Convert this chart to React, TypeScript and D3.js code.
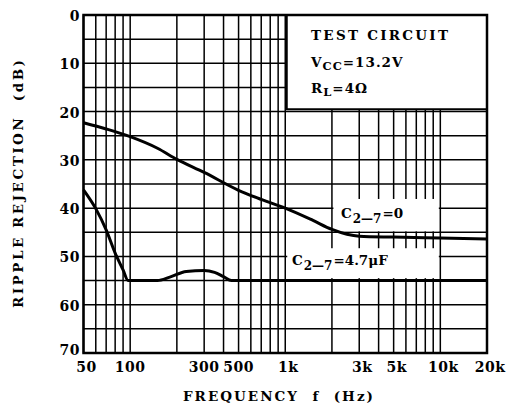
import React from 'react';
import * as d3 from 'd3';

// frequency (Hz) / ripple rejection (dB)
const freqC0 = [50, 70, 100, 150, 200, 300, 500, 700, 1000, 1500, 2000, 2500, 3000, 5000, 10000, 20000];
const rrC0 = [22.3, 23.6, 25.2, 27.6, 29.9, 32.6, 36.3, 38.2, 40, 42.5, 44.4, 45.4, 45.8, 46.0, 46.2, 46.4];

const freqC47 = [50, 60, 70, 80, 90, 97, 150, 180, 230, 300, 350, 400, 450, 1000, 20000];
const rrC47 = [36.2, 40.1, 44.5, 49.3, 52.8, 55, 55, 54.3, 53.1, 52.9, 53.3, 54.2, 55, 55, 55];

const xGrid = [50, 60, 70, 80, 90, 100, 200, 300, 400, 500, 600, 700, 800, 900, 1000,
  2000, 3000, 4000, 5000, 6000, 7000, 8000, 9000, 10000, 20000];
const xTicks = [50, 100, 300, 500, 1000, 3000, 5000, 10000, 20000];
const xTickLabels = ['50', '100', '300', '500', '1k', '3k', '5k', '10k', '20k'];
const yGrid = d3.range(0, 71, 5);
const yTicks = [0, 10, 20, 30, 40, 50, 60, 70];

const FONT = '"DejaVu Serif", "Liberation Serif", serif';

const App = () => {
  const left = 83.5, right = 487, top = 15, bottom = 353;
  const x = d3.scaleLog().domain([50, 20000]).range([left, right]);
  const y = d3.scaleLinear().domain([0, 70]).range([top, bottom]);

  const line = d3
    .line<[number, number]>()
    .x((d) => x(d[0]))
    .y((d) => y(d[1]))
    .curve(d3.curveMonotoneX);

  const c0 = freqC0.map((f, i) => [f, rrC0[i]] as [number, number]);
  const c47 = freqC47.map((f, i) => [f, rrC47[i]] as [number, number]);

  const txt = { fontFamily: FONT, fontWeight: 'bold' as const, fill: '#000' };

  return (
    <svg width={512} height={405} style={{ position: 'absolute', left: 0, top: 0, background: '#fff' }}>
      {/* grid */}
      <g stroke="#000" strokeWidth={1.5}>
        {xGrid.map((f) => (
          <line key={'vx' + f} x1={x(f)} x2={x(f)} y1={top} y2={bottom} />
        ))}
        {yGrid.map((v) => (
          <line key={'hy' + v} x1={left} x2={right} y1={y(v)} y2={y(v)} />
        ))}
      </g>

      {/* test circuit box */}
      <rect x={x(1000) + 1} y={top} width={right - x(1000) - 1} height={y(19.5) - top} fill="#fff" />
      <path
        d={`M${x(1000) + 1.5},${top} V${y(19.5)} H${right}`}
        fill="none"
        stroke="#000"
        strokeWidth={2}
      />

      {/* label boxes */}
      <rect x={x(2000) + 1.5} y={y(38.1)} width={x(10000) - x(2000) - 3} height={y(45) - y(38.1) - 1} fill="#fff" />
      <rect x={x(1030)} y={y(48.3)} width={x(10000) - x(1030) - 1.5} height={y(54.5) - y(48.3)} fill="#fff" />

      {/* curves */}
      <path d={line(c0) || ''} fill="none" stroke="#000" strokeWidth={3} />
      <path d={line(c47) || ''} fill="none" stroke="#000" strokeWidth={3} />

      {/* frame */}
      <rect x={left} y={top} width={right - left} height={bottom - top} fill="none" stroke="#000" strokeWidth={2.5} />

      {/* in-plot texts */}
      <g {...txt} fontSize={13.5}>
        <text x={311} y={40} textLength={137} lengthAdjust="spacing">TEST CIRCUIT</text>
        <text x={311} y={67} letterSpacing={1}>
          V<tspan fontSize={11.5} dy={3}>CC</tspan>
          <tspan dy={-3}>=13.2V</tspan>
        </text>
        <text x={311} y={93} letterSpacing={1}>
          R<tspan fontSize={11.5} dy={3}>L</tspan>
          <tspan dy={-3}>=4Ω</tspan>
        </text>
      </g>
      <g {...txt} fontSize={13.5}>
        <text x={341} y={218}>
          C<tspan fontSize={12} dx={1} dy={5}>2—7</tspan>
          <tspan dx={1} dy={-5}>=0</tspan>
        </text>
        <text x={292} y={265}>
          C<tspan fontSize={12} dx={1} dy={5}>2—7</tspan>
          <tspan dx={1} dy={-5}>=4.7μF</tspan>
        </text>
      </g>

      {/* y tick labels */}
      <g {...txt} fontSize={14} letterSpacing={0.5} textAnchor="end">
        {yTicks.map((v, i) => (
          <text key={'yt' + v} x={80} y={y(v) + (i === yTicks.length - 1 ? -2 : 2)} dominantBaseline="middle">
            {v}
          </text>
        ))}
      </g>

      {/* x tick labels */}
      <g {...txt} fontSize={14} letterSpacing={0.5} textAnchor="middle">
        {xTicks.map((f, i) => (
          <text key={'xt' + f} x={x(f) + (i === 0 ? 3 : f >= 1000 ? 3 : 0)} y={372}>
            {xTickLabels[i]}
          </text>
        ))}
      </g>

      {/* axis titles */}
      <text
        {...txt}
        fontSize={13.5}
        x={183}
        y={401}
        textLength={190}
        lengthAdjust="spacing"
        style={{ whiteSpace: 'pre' }}
      >
        FREQUENCY  f  (Hz)
      </text>
      <text
        {...txt}
        fontSize={13.5}
        x={0}
        y={0}
        textLength={248}
        lengthAdjust="spacing"
        transform={`translate(23,308) rotate(-90)`}
        style={{ whiteSpace: 'pre' }}
      >
        RIPPLE REJECTION  (dB)
      </text>
    </svg>
  );
};

export default App;
